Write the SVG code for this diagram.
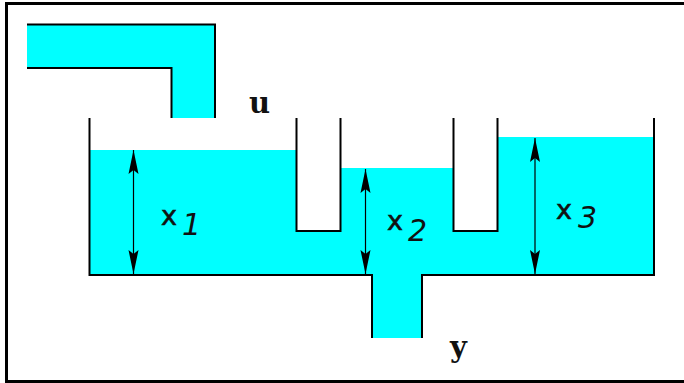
<svg xmlns="http://www.w3.org/2000/svg" width="684" height="383" viewBox="0 0 684 383">
<style>
.w{fill:none;stroke:#000;stroke-width:2}
.f{fill:#0ff;stroke:none}
.a{fill:none;stroke:#000;stroke-width:1.2;marker-start:url(#h);marker-end:url(#h)}
.t{fill:#111}
.v{font-family:"DejaVu Serif",serif;font-size:29px;font-weight:bold}
.x{font-family:"DejaVu Sans",sans-serif;font-size:27px;stroke:#111;stroke-width:.6}
.n{font-size:30px;font-family:"DejaVu Sans",sans-serif;font-style:italic}
</style>
<defs>
<marker id="h" markerUnits="userSpaceOnUse" markerWidth="25" markerHeight="11" refX="24" refY="5.500" orient="auto-start-reverse" viewBox="0 0 25 11"><path d="M24 5.500L0 .5L4 5.500L0 10.500Z" fill="#000"/></marker>
</defs>
<rect width="684" height="383" fill="#fff"/>
<g id="frame"><path d="M684 3.500H6.500V381.500H684" fill="none" stroke="#000" stroke-width="3"/></g>
<g id="inlet">
<path class="f" d="M27 24.500H215V118H171.500V68H27Z"/>
<path class="w" d="M27 24.500H215V118M27 68H171.500V118"/>
</g>
<g id="tank">
<path class="f" d="M89.500 150H296.500V231H340V168H453V231H497V137H654V275H422V338H372V275H89.500Z"/>
<path class="w" d="M89.500 118V275H372V338M422 338V275H654V118M296.500 118V231H340.500V118M453.500 118V231H497.500V118"/>
</g>
<g id="connectors">
<path class="a" d="M133.500 150V274"/>
<path class="a" d="M365.500 169V274"/>
<path class="a" d="M535 138V274"/>
</g>
<g id="labels">
<text class="t v" x="249" y="113">u</text>
<text class="t x" x="161" y="225">x</text>
<text class="t n" x="182" y="235">1</text>
<text class="t x" x="387" y="230">x</text>
<text class="t n" x="408" y="241">2</text>
<text class="t x" x="556" y="219">x</text>
<text class="t n" x="578" y="228">3</text>
<text class="t v" x="450" y="357">y</text>
</g>
</svg>
